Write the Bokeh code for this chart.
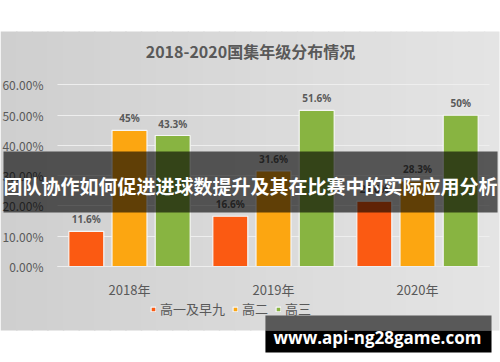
from bokeh.plotting import figure
from bokeh.models import (Range1d, ColumnDataSource, FixedTicker, Grid,
                          NumeralTickFormatter, BoxAnnotation, Label, Legend, LegendItem)
from bokeh.transform import dodge
from bokeh.core.properties import value
from bokeh.embed import file_html
from bokeh.resources import INLINE

# ---------------- data ----------------
years = ["2018年", "2019年", "2020年"]
series_names = ["高一及早九", "高二", "高三"]
grade1 = [0.116, 0.166, 0.216]
grade2 = [0.45, 0.316, 0.283]
grade3 = [0.433, 0.516, 0.50]
y_ticks = [0.0, 0.1, 0.2, 0.3, 0.4, 0.5, 0.6]
title_text = "2018-2020国集年级分布情况"
banner_text = "团队协作如何促进进球数提升及其在比赛中的实际应用分析"
watermark_text = "www.api-ng28game.com"

colors = ["#FB5A12", "#FCA611", "#88B441"]
offsets = [-0.30, 0.0, 0.30]
TXT = "#595959"
CJK = "Noto Sans CJK SC"

# category slots on the x scale (one unit per year)
x_pos = [i + 0.5 for i in range(len(years))]


def pct(v):
    return f"{v * 100:g}%"


src = ColumnDataSource(dict(
    xpos=x_pos, year=years,
    g1=grade1, g2=grade2, g3=grade3,
    l1=[pct(v) for v in grade1],
    l2=[pct(v) for v in grade2],
    l3=[pct(v) for v in grade3],
))

p = figure(width=500, height=362, x_range=Range1d(-0.3958, 3.0764),
           y_range=Range1d(-0.3174, 0.8793), output_backend="svg", toolbar_location=None,
           min_border=0, min_border_left=0, min_border_right=0, min_border_top=0, min_border_bottom=0)
p.title.visible = False
p.outline_line_color = None
p.background_fill_color = "white"
p.border_fill_color = "white"

# gradient background strips (decoration)
N = 32
x0, x1 = -0.3958, 3.0694
c0, c1 = (0xCF, 0xCF, 0xCF), (0xE4, 0xE4, 0xE4)
for i in range(N):
    t = i / (N - 1)
    c = tuple(int(round(a + (b - a) * t)) for a, b in zip(c0, c1))
    right = x0 + (x1 - x0) * (i + 1) / N + (0.01 if i < N - 1 else 0)
    p.add_layout(BoxAnnotation(left=x0 + (x1 - x0) * i / N, right=right,
                               top=0.7769, bottom=-0.2116, fill_color="#%02x%02x%02x" % c,
                               fill_alpha=1, line_color=None, level="image"))

# axes drawn at fixed data locations inside the frame
p.yaxis.fixed_location = 0
p.yaxis.ticker = FixedTicker(ticks=y_ticks)
p.yaxis.formatter = NumeralTickFormatter(format="0.00%")
p.yaxis.axis_line_color = None
p.yaxis.major_tick_line_color = None
p.yaxis.minor_tick_line_color = None
p.yaxis.major_label_standoff = 8
p.yaxis.major_label_text_font = CJK
p.yaxis.major_label_text_font_size = "12px"
p.yaxis.major_label_text_color = TXT

p.xaxis.fixed_location = 0
p.xaxis.ticker = FixedTicker(ticks=x_pos)
p.xaxis.major_label_overrides = {xv: yr for xv, yr in zip(x_pos, years)}
p.xaxis.bounds = (0, len(years))
p.xaxis.axis_line_color = "#eeeeee"
p.xaxis.major_tick_line_color = None
p.xaxis.minor_tick_line_color = None
p.xaxis.major_label_standoff = 8
p.xaxis.major_label_text_font = CJK
p.xaxis.major_label_text_font_size = "13px"
p.xaxis.major_label_text_color = TXT

p.xgrid.grid_line_color = None
p.ygrid.ticker = FixedTicker(ticks=y_ticks)
if "cross_bounds" in Grid.properties():
    p.ygrid.grid_line_color = "#eeeeee"
    p.ygrid.cross_bounds = (0, len(years))
else:
    p.ygrid.grid_line_color = None
    p.segment(x0=[0] * len(y_ticks), x1=[len(years)] * len(y_ticks), y0=y_ticks, y1=y_ticks,
              line_color="#eeeeee", line_width=1, level="underlay")

renderers = []
for key, lab, col, off in zip(["g1", "g2", "g3"], ["l1", "l2", "l3"], colors, offsets):
    r = p.vbar(x=dodge("xpos", off), top=key, width=0.243, source=src,
               fill_color=col, line_color="#f6f6f6", line_width=1.2)
    renderers.append(r)
    p.text(x=dodge("xpos", off), y=key, text=lab, source=src,
           text_align="center", text_baseline="middle", y_offset=-12,
           text_font=value("Noto Sans"), text_font_style="bold",
           text_font_size="10px", text_color=TXT)

p.add_layout(Label(x=1.34, y=0.711, text=title_text, text_align="center", text_baseline="middle",
                   text_font=CJK, text_font_style="bold", text_font_size="16px", text_color=TXT))

legend = Legend(items=[LegendItem(label=n, renderers=[r]) for n, r in zip(series_names, renderers)],
                orientation="horizontal", location=(150, 44), glyph_width=6, glyph_height=6,
                label_standoff=4, spacing=7, padding=0, margin=0, border_line_color=None,
                background_fill_alpha=0, label_text_font=CJK, label_text_font_size="13px",
                label_text_color=TXT, label_height=14)
p.add_layout(legend)

# banner overlay
p.add_layout(BoxAnnotation(left=-0.375, right=3.056, top=0.380, bottom=0.1785, fill_color="black",
                           fill_alpha=0.62, line_color=None, level="annotation"))
p.add_layout(Label(x=1.34, y=0.268, text=banner_text, text_align="center", text_baseline="middle",
                   text_font=CJK, text_font_style="bold", text_font_size="19px", text_color="white"))

# watermark box
p.add_layout(BoxAnnotation(left=1.444, right=3.014, top=-0.162, bottom=-0.2116, fill_color="#595959",
                           fill_alpha=1, line_color=None, level="annotation"))
p.add_layout(BoxAnnotation(left=1.444, right=3.014, top=-0.2116, bottom=-0.284, fill_color="black",
                           fill_alpha=1, line_color=None, level="annotation"))
p.add_layout(Label(x=2.222, y=-0.236, text=watermark_text, text_align="center", text_baseline="middle",
                   text_font="Open Sans", text_font_style="bold", text_font_size="17px", text_color="white"))

open("out.html", "w").write(file_html(p, INLINE))
